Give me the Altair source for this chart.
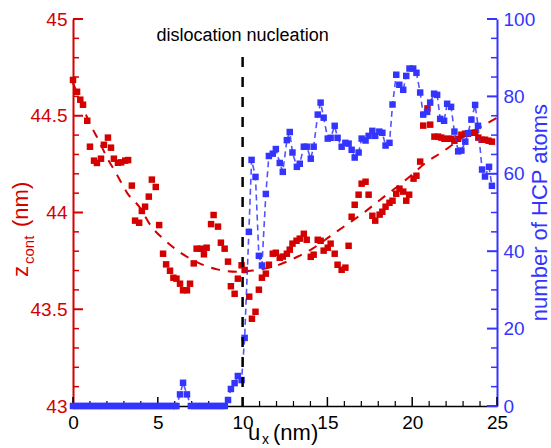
import altair as alt
import pandas as pd

# ---- data ----
red_x = [0.00, 0.24, 0.43, 0.59, 0.84, 1.00, 1.24, 1.41, 1.65, 1.82, 2.06, 2.24, 2.41, 2.65, 2.84,
         3.08, 3.25, 3.47, 3.66, 3.90, 4.06, 4.25, 4.47, 4.65, 4.88, 5.08, 5.31, 5.49, 5.72, 5.92,
         6.10, 6.31, 6.49, 6.72, 6.90, 7.12, 7.29, 7.53, 7.72, 7.88, 8.14, 8.29, 8.55, 8.72, 8.94,
         9.14, 9.31, 9.53, 9.72, 9.94, 10.12, 10.39, 10.55, 10.76, 10.96, 11.14, 11.37, 11.55, 11.78,
         11.96, 12.19, 12.37, 12.61, 12.78, 12.94, 13.18, 13.37, 13.61, 13.78, 14.02, 14.19, 14.43,
         14.60, 14.78, 15.02, 15.19, 15.43, 15.60, 15.84, 16.06, 16.25, 16.43, 16.61, 16.84, 17.02,
         17.25, 17.43, 17.65, 17.82, 18.08, 18.24, 18.43, 18.66, 18.84, 19.06, 19.25, 19.47, 19.65,
         19.82, 20.08, 20.25, 20.47, 20.65, 20.90, 21.06, 21.31, 21.53, 21.72, 21.90, 22.14, 22.31,
         22.49, 22.71, 22.90, 23.12, 23.29, 23.49, 23.71, 23.90, 24.10, 24.29, 24.50, 24.70]
red_z = [44.685, 44.624, 44.583, 44.557, 44.474, 44.340, 44.268, 44.256, 44.278, 44.350, 44.387,
         44.335, 44.278, 44.257, 44.259, 44.268, 44.271, 44.139, 43.958, 43.947, 44.008, 44.030,
         44.082, 44.170, 44.132, 43.935, 43.787, 43.732, 43.699, 43.663, 43.658, 43.632, 43.598,
         43.598, 43.632, 43.737, 43.813, 43.813, 43.784, 43.818, 43.940, 43.987, 43.927, 43.844,
         43.813, 43.746, 43.619, 43.580, 43.658, 43.727, 43.703, 43.565, 43.451, 43.487, 43.601,
         43.663, 43.684, 43.730, 43.787, 43.792, 43.766, 43.772, 43.787, 43.808, 43.839, 43.854,
         43.865, 43.890, 43.859, 43.771, 43.782, 43.859, 43.854, 43.803, 43.818, 43.839, 43.787,
         43.730, 43.704, 43.715, 43.828, 43.978, 44.040, 44.092, 44.149, 44.159, 44.092, 43.983,
         43.958, 43.989, 44.004, 44.030, 44.050, 44.061, 44.097, 44.123, 44.108, 44.061, 44.092,
         44.175, 44.190, 44.263, 44.449, 44.538, 44.454, 44.392, 44.392, 44.387, 44.381, 44.381,
         44.381, 44.371, 44.381, 44.402, 44.407, 44.407, 44.412, 44.412, 44.387, 44.376, 44.376,
         44.371, 44.366]

fit_x = [0.0, 0.5, 1.0, 1.5, 2.0, 2.6, 3.2, 3.9, 4.6, 5.4, 6.4, 7.4, 8.5, 9.7, 10.6, 11.8, 13.2,
         14.15, 15.13, 16.1, 17.1, 18.1, 19.0, 19.9, 20.8, 21.8, 23.0, 24.0, 25.0]
fit_z = [44.67, 44.56, 44.46, 44.375, 44.285, 44.194, 44.10, 44.03, 43.93, 43.858, 43.789, 43.74,
         43.706, 43.694, 43.70, 43.72, 43.77, 43.815, 43.875, 43.935, 43.996, 44.065, 44.125,
         44.189, 44.257, 44.314, 44.39, 44.44, 44.49]

hcp_x = [0.0, 0.2, 0.4, 0.6, 0.8, 1.0, 1.2, 1.4, 1.6, 1.8, 2.0, 2.2, 2.4, 2.6, 2.8, 3.0, 3.2, 3.4,
         3.6, 3.8, 4.0, 4.2, 4.4, 4.6, 4.8, 5.0, 5.2, 5.4, 5.6, 5.8, 6.0, 6.1, 6.31, 6.49, 6.72,
         6.95, 7.15, 7.35, 7.55, 7.75, 7.95, 8.15, 8.35, 8.55, 8.75, 8.95, 9.14, 9.31, 9.53, 9.72,
         9.94, 10.12, 10.37, 10.53, 10.76, 10.96, 11.14, 11.37, 11.55, 11.78, 11.96, 12.19, 12.37,
         12.61, 12.78, 12.94, 13.20, 13.37, 13.61, 13.78, 14.02, 14.19, 14.43, 14.60, 14.78, 15.02,
         15.19, 15.43, 15.60, 15.84, 16.06, 16.25, 16.43, 16.61, 16.84, 17.02, 17.25, 17.43, 17.65,
         17.82, 18.06, 18.24, 18.43, 18.66, 18.84, 19.06, 19.24, 19.47, 19.65, 19.84, 20.06, 20.25,
         20.47, 20.65, 20.88, 21.06, 21.29, 21.47, 21.65, 21.88, 22.06, 22.29, 22.49, 22.71, 22.90,
         23.13, 23.29, 23.49, 23.71, 23.88, 24.12, 24.29, 24.53, 24.70]
hcp_n = [0, 0, 0, 0, 0, 0, 0, 0, 0, 0, 0, 0, 0, 0, 0, 0, 0, 0, 0, 0, 0, 0, 0, 0, 0, 0, 0, 0, 0, 0,
         0, 0, 3.0, 6.0, 3.0, 0, 0, 0, 0, 0, 0, 0, 0, 0, 0, 0, 1.55, 4.4, 5.9, 7.75, 6.7, 17.6, 45.0,
         63.6, 59.2, 38.8, 36.3, 54.8, 64.6, 65.2, 66.4, 62.8, 60.5, 68.7, 70.8, 65.5, 61.8, 62.6,
         67.0, 67.0, 63.9, 67.0, 75.3, 78.4, 74.5, 69.1, 69.3, 72.4, 69.3, 67.0, 68.0, 67.8, 66.2,
         64.2, 65.5, 69.1, 68.6, 69.8, 71.1, 69.8, 70.9, 70.6, 67.3, 68.0, 77.9, 85.6, 83.0, 81.7,
         85.3, 87.2, 87.2, 86.1, 81.0, 75.3, 76.0, 78.4, 80.7, 80.4, 74.2, 73.7, 78.1, 77.3, 70.9,
         65.8, 66.0, 68.3, 70.5, 74.0, 77.8, 72.4, 61.1, 59.3, 61.8, 56.9]

x_major = [0, 5, 10, 15, 20, 25]
x_minor = [1, 2, 3, 4, 6, 7, 8, 9, 11, 12, 13, 14, 16, 17, 18, 19, 21, 22, 23, 24]
z_major = [43.0, 43.5, 44.0, 44.5, 45.0]
z_minor = [43.1, 43.2, 43.3, 43.4, 43.6, 43.7, 43.8, 43.9, 44.1, 44.2, 44.3, 44.4,
           44.6, 44.7, 44.8, 44.9]
n_major = [0, 20, 40, 60, 80, 100]
n_minor = [5, 10, 15, 25, 30, 35, 45, 50, 55, 65, 70, 75, 85, 90, 95]

annotation = ["dislocation nucleation"]
left_title = ["z", "cont", "(nm)"]
bottom_title = ["u", "x", "(nm)"]
right_title = ["number of HCP atoms"]

# ---- styling ----
RED = "#d40000"
BLUE = "#3434ff"
FONT = "Liberation Sans"
W, H = 424, 387

xscale = alt.Scale(domain=[0, 25], nice=False, zero=False)
zscale = alt.Scale(domain=[43, 45], nice=False, zero=False)
nscale = alt.Scale(domain=[0, 100], nice=False)

x_axis = alt.Axis(values=x_major, format="d", title=None, grid=False, ticks=False, tickSize=0,
                  domainColor="black", domainWidth=1.5, labelColor="black", labelFontSize=19,
                  labelFont=FONT, labelPadding=7, labelFlush=False, labelOverlap=False)
z_axis = alt.Axis(orient="left", values=z_major, format="~g", title=None, grid=False, ticks=False,
                  tickSize=0, domainColor=RED, domainWidth=2, labelColor=RED, labelFontSize=19,
                  labelFont=FONT, labelPadding=6, labelOverlap=False)
n_axis = alt.Axis(orient="right", values=n_major, format="d", title=None, grid=False, ticks=False,
                  tickSize=0, domainColor=BLUE, domainWidth=2, labelColor=BLUE, labelFontSize=19,
                  labelFont=FONT, labelPadding=6, labelOverlap=False)

X = alt.X("x:Q", scale=xscale, axis=x_axis)
Z = alt.Y("z:Q", scale=zscale, axis=z_axis)
N = alt.Y("n:Q", scale=nscale, axis=n_axis)

red_df = pd.DataFrame({"x": red_x, "z": red_z})
fit_df = pd.DataFrame({"x": fit_x, "z": fit_z})
blue_df = pd.DataFrame({"x": hcp_x, "n": hcp_n})

fit = alt.Chart(fit_df).mark_line(color=RED, strokeDash=[9, 8], strokeWidth=2,
                                  interpolate="monotone").encode(x=X, y=Z)
red_pts = alt.Chart(red_df).mark_square(color=RED, size=42, opacity=1).encode(x=X, y=Z)
zmaj = alt.Chart(pd.DataFrame({"z": z_major})).mark_rule(color=RED, strokeWidth=2).encode(
    y=Z, x=alt.value(0), x2=alt.value(10))
zmin = alt.Chart(pd.DataFrame({"z": z_minor})).mark_rule(color=RED, strokeWidth=1.5).encode(
    y=Z, x=alt.value(0), x2=alt.value(6))
xmaj = alt.Chart(pd.DataFrame({"x": x_major})).mark_rule(color="black", strokeWidth=1.5).encode(
    x=X, y=alt.value(H), y2=alt.value(H - 9))
xmin = alt.Chart(pd.DataFrame({"x": x_minor})).mark_rule(color="black", strokeWidth=1.2).encode(
    x=X, y=alt.value(H), y2=alt.value(H - 5))

left_t = pd.DataFrame({"t": left_title})
t_z = alt.Chart(left_t.iloc[[0]]).mark_text(
    angle=270, align="left", baseline="alphabetic", fontSize=22, font=FONT, color=RED
).encode(x=alt.value(-45), y=alt.value(258), text="t:N")
t_cont = alt.Chart(left_t.iloc[[1]]).mark_text(
    angle=270, align="left", baseline="alphabetic", fontSize=15, font=FONT, color=RED
).encode(x=alt.value(-39), y=alt.value(245), text="t:N")
t_nm = alt.Chart(left_t.iloc[[2]]).mark_text(
    angle=270, align="left", baseline="alphabetic", fontSize=22, font=FONT, color=RED
).encode(x=alt.value(-45), y=alt.value(208), text="t:N")

red_group = alt.layer(fit, red_pts, zmaj, zmin, xmaj, xmin, t_z, t_cont, t_nm)

blue_line = alt.Chart(blue_df).mark_line(color=BLUE, strokeDash=[6, 4], strokeWidth=1.6,
                                         opacity=0.85).encode(x=X, y=N)
blue_pts = alt.Chart(blue_df).mark_square(color=BLUE, size=42, opacity=1).encode(x=X, y=N)
nmaj = alt.Chart(pd.DataFrame({"n": n_major})).mark_rule(color=BLUE, strokeWidth=2).encode(
    y=N, x=alt.value(W), x2=alt.value(W - 10))
nmin = alt.Chart(pd.DataFrame({"n": n_minor})).mark_rule(color=BLUE, strokeWidth=1.5).encode(
    y=N, x=alt.value(W), x2=alt.value(W - 6))

vline = alt.Chart(pd.DataFrame({"x": [10]})).mark_rule(
    color="black", strokeDash=[10, 10], strokeWidth=2.5).encode(
    x=X, y=alt.value(38), y2=alt.value(H))
annot = alt.Chart(pd.DataFrame({"x": [10], "t": annotation})).mark_text(
    align="center", baseline="alphabetic", fontSize=18, font=FONT, color="black"
).encode(x=X, y=alt.value(22), text="t:N")

bot_t = pd.DataFrame({"t": bottom_title})
t_u = alt.Chart(bot_t.iloc[[0]]).mark_text(
    align="left", baseline="alphabetic", fontSize=22, font=FONT, color="black"
).encode(x=alt.value(175), y=alt.value(421), text="t:N")
t_x = alt.Chart(bot_t.iloc[[1]]).mark_text(
    align="left", baseline="alphabetic", fontSize=14, font=FONT, color="black"
).encode(x=alt.value(189), y=alt.value(425), text="t:N")
t_unm = alt.Chart(bot_t.iloc[[2]]).mark_text(
    align="left", baseline="alphabetic", fontSize=22, font=FONT, color="black"
).encode(x=alt.value(200), y=alt.value(421), text="t:N")

t_right = alt.Chart(pd.DataFrame({"t": right_title})).mark_text(
    angle=270, align="center", baseline="middle", fontSize=22, font=FONT, color=BLUE
).encode(x=alt.value(467), y=alt.value(H / 2), text="t:N")

blue_group = alt.layer(blue_line, blue_pts, nmaj, nmin, vline, annot, t_u, t_x, t_unm, t_right)

chart = alt.layer(red_group, blue_group).resolve_scale(y="independent").properties(
    width=W, height=H,
    padding={"left": 73, "top": 19, "right": 54, "bottom": 42},
    autosize=alt.AutoSizeParams(type="none"),
    background="white",
).configure_view(stroke=None)

chart.save("out.html", embed_options={"renderer": "svg", "actions": False})
